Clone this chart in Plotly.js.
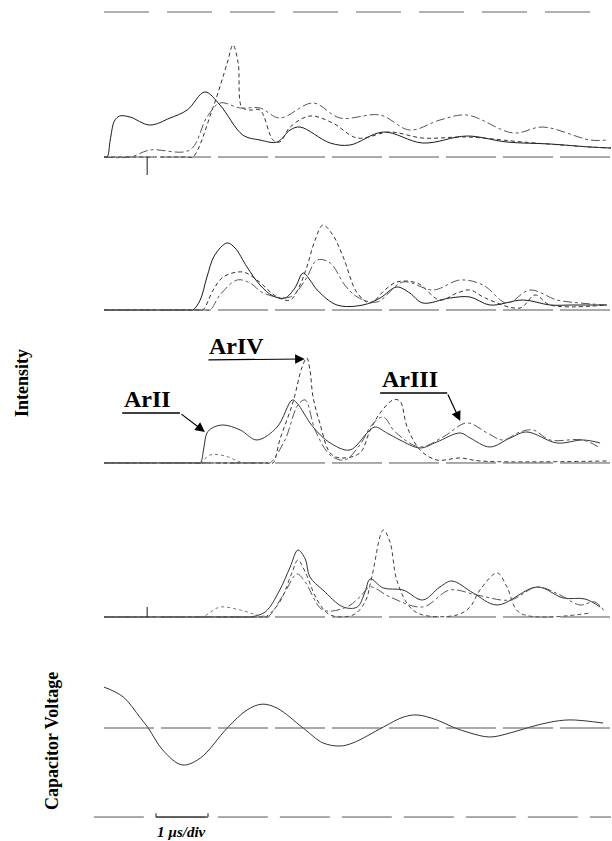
<!DOCTYPE html>
<html>
<head>
<meta charset="utf-8">
<script src="https://cdn.plot.ly/plotly-3.0.1.min.js"></script>
<style>html,body{margin:0;padding:0;background:#fff;}#chart{width:612px;height:841px;}</style>
</head>
<body>
<div id="chart"></div>
<script>
// ---- time (µs) and intensity data, panel 1 (top) ----
const p1SolidT = [0,0.06,0.12,0.2,0.3,0.5,0.88,1.27,1.6,1.94,2.23,2.67,3.0,3.33,3.58,3.77,4.35,4.73,5.37,6.13,6.98,7.75,8.58,9.35,9.75];
const p1SolidV = [0,0,0.17,0.36,0.41,0.40,0.32,0.39,0.47,0.65,0.52,0.22,0.17,0.15,0.27,0.30,0.14,0.12,0.25,0.14,0.21,0.15,0.13,0.10,0.09];
const p1DashT = [0,1.0,1.6,1.71,2.1,2.37,2.48,2.58,2.65,2.8,3.0,3.25,3.38,3.58,3.96,4.4,4.87,5.5,6.13,6.98,8.06,9.35,9.75];
const p1DashV = [0,0,0,0,0.50,0.94,1.12,0.94,0.50,0.47,0.47,0.17,0.15,0.30,0.41,0.34,0.19,0.25,0.19,0.20,0.15,0.10,0.09];
const p1DotT = [0,0.5,0.88,1.65,1.98,2.23,2.62,3.0,3.38,4.02,4.54,5.31,5.88,6.46,6.98,7.87,8.44,9.35,9.67];
const p1DotV = [0,0,0.07,0.07,0.40,0.54,0.49,0.49,0.39,0.54,0.39,0.42,0.27,0.37,0.42,0.24,0.30,0.17,0.17];

// ---- panel 2 ----
const p2SolidT = [0,1.0,1.6,1.71,1.85,1.98,2.13,2.37,2.52,2.75,3.0,3.25,3.48,3.67,3.83,3.96,4.1,4.48,4.98,5.31,5.63,5.88,6.13,6.65,7.04,7.42,8.06,8.58,9.02,9.67];
const p2SolidV = [0,0,0,0,0.10,0.33,0.55,0.67,0.62,0.43,0.25,0.14,0.12,0.22,0.37,0.30,0.20,0.05,0.05,0.12,0.23,0.17,0.07,0.12,0.13,0.05,0.10,0.05,0.05,0.05];
const p2DashT = [0,1.0,1.8,1.9,2.1,2.29,2.67,2.94,3.33,3.58,3.77,3.9,4.06,4.21,4.4,4.6,4.87,5.12,5.4,5.63,6.02,6.46,6.79,7.04,7.33,8.0,8.29,8.58,9.67];
const p2DashV = [0,0,0,0,0.20,0.33,0.38,0.30,0.13,0.10,0.25,0.43,0.70,0.85,0.75,0.53,0.17,0.07,0.20,0.28,0.27,0.10,0.17,0.20,0.12,0.02,0.15,0.05,0.05];
const p2DotT = [0,1.0,1.94,2.04,2.23,2.56,2.81,3.06,3.58,3.87,4.1,4.35,4.63,4.87,5.25,5.75,6.33,6.85,7.29,7.75,8.19,8.71,9.15,9.67];
const p2DotV = [0,0,0,0,0.15,0.30,0.27,0.17,0.13,0.30,0.50,0.47,0.25,0.13,0.08,0.28,0.20,0.30,0.25,0.07,0.20,0.10,0.07,0.05];

// ---- panel 3 ----
const p3SolidT = [0,1.0,1.75,1.85,1.92,1.98,2.08,2.29,2.62,2.94,3.33,3.62,3.71,4.02,4.35,4.73,5.06,5.21,5.44,5.69,6.08,6.4,6.85,7.04,7.42,7.81,8.13,8.71,9.21,9.54];
const p3SolidV = [0,0,0,0,0.15,0.30,0.35,0.38,0.33,0.23,0.36,0.63,0.60,0.36,0.20,0.13,0.30,0.36,0.30,0.23,0.15,0.21,0.30,0.25,0.16,0.25,0.31,0.20,0.23,0.20];
const p3DashT = [0,2.0,3.15,3.25,3.38,3.63,3.81,3.9,3.96,4.02,4.15,4.35,4.54,4.92,5.12,5.31,5.56,5.69,5.83,6.08,6.4,6.85,7.23,9.67];
const p3DashV = [0,0,0,0,0.23,0.60,0.96,1.05,0.93,0.66,0.40,0.10,0.05,0.10,0.33,0.50,0.63,0.62,0.36,0.13,0.03,0.05,0.02,0.02];
const p3DashDotT = [0,2.0,3.09,3.19,3.48,3.73,3.87,4.06,4.35,4.63,4.92,5.15,5.37,5.6,6.08,6.52,6.98,7.37,7.67,8.0,8.25,8.58,9.21,9.54];
const p3DashDotV = [0,0,0,0,0.23,0.58,0.63,0.33,0.08,0.03,0.18,0.38,0.46,0.31,0.16,0.26,0.40,0.30,0.23,0.31,0.33,0.23,0.23,0.15];
const p3DotT = [0,1.0,1.75,1.85,2.04,2.33,2.62,2.8];
const p3DotV = [0,0,0,0,0.08,0.07,0.01,0];

// ---- panel 4 ----
const p4SolidT = [0,1.5,2.7,2.81,3.1,3.38,3.58,3.73,3.87,3.96,4.21,4.6,4.87,5.02,5.12,5.37,5.75,6.13,6.46,6.69,7.1,7.56,8.33,8.83,9.25,9.54];
const p4SolidV = [0,0,0,0,0.05,0.27,0.50,0.67,0.58,0.40,0.27,0.10,0.10,0.25,0.38,0.29,0.27,0.17,0.30,0.36,0.24,0.12,0.30,0.19,0.18,0.10];
const p4DashT = [0,1.5,3.0,3.1,3.38,3.62,3.73,3.87,4.1,4.35,4.79,5.02,5.15,5.37,5.5,5.63,5.88,6.13,6.79,7.04,7.23,7.56,7.75,8.0,9.35];
const p4DashV = [0,0,0,0,0.15,0.45,0.57,0.45,0.17,0.02,0.02,0.15,0.40,0.87,0.75,0.37,0.10,0.02,0.02,0.10,0.27,0.44,0.30,0.04,0.04];
const p4DashDotT = [0,1.5,3.05,3.15,3.48,3.71,3.87,4.21,4.67,4.92,5.12,5.5,6.13,6.65,7.17,7.81,8.33,8.77,9.15,9.44,9.63];
const p4DashDotV = [0,0,0,0,0.25,0.43,0.35,0.07,0.10,0.20,0.30,0.20,0.10,0.27,0.22,0.17,0.30,0.22,0.12,0.15,0.05];
const p4DotT = [0,1.0,1.8,1.9,2.08,2.23,2.62,2.94,3.19];
const p4DotV = [0,0,0,0,0.06,0.10,0.07,0.02,0];

// ---- panel 5: capacitor voltage ----
const capT = [0,0.37,0.69,0.85,1.13,1.5,1.85,2.37,2.75,3.04,3.33,3.83,4.21,4.54,4.79,5.37,5.75,6.02,6.4,6.71,7.04,7.42,7.81,8.19,8.58,8.96,9.6];
const capV = [0.91,0.69,0.24,0,-0.49,-0.82,-0.67,0,0.40,0.53,0.44,0,-0.33,-0.40,-0.33,0.02,0.24,0.29,0.18,0.02,-0.11,-0.20,-0.11,0.02,0.13,0.18,0.11];

// labels
const ionLabels = ['ArII','ArIV','ArIII'];
const yTitles = ['Intensity','Capacitor Voltage'];
const scaleLabel = '1 µs/div';

const ink = '#1a1a1a';
function tr(x, y, ax, dash, color, width){
  return {x:x, y:y, xaxis:'x', yaxis:ax, mode:'lines', type:'scatter',
    line:{color:color||ink, width:width||1, dash:dash, shape:'spline', smoothing:1},
    hoverinfo:'skip', showlegend:false};
}
const data = [
  tr(p1SolidT,p1SolidV,'y','solid'),
  tr(p1DashT,p1DashV,'y','4px,3px','#333'),
  tr(p1DotT,p1DotV,'y','dashdot','#555'),
  tr(p2SolidT,p2SolidV,'y2','solid'),
  tr(p2DashT,p2DashV,'y2','4px,3px','#333'),
  tr(p2DotT,p2DotV,'y2','dashdot','#555'),
  tr(p3SolidT,p3SolidV,'y3','solid','#333'),
  tr(p3DashT,p3DashV,'y3','4px,3px','#333'),
  tr(p3DashDotT,p3DashDotV,'y3','dashdot','#555'),
  tr(p3DotT,p3DotV,'y3','dot','#777'),
  tr(p4SolidT,p4SolidV,'y4','solid','#333'),
  tr(p4DashT,p4DashV,'y4','4px,3px','#444'),
  tr(p4DashDotT,p4DashDotV,'y4','dashdot','#555'),
  tr(p4DotT,p4DotV,'y4','dot','#777'),
  tr(capT,capV,'y5','solid','#333')
];

function yax(domain, range){
  return {domain:domain, range:range, visible:false, fixedrange:true, anchor:'x'};
}
const baseDash = '50px,7px';
function base(yref){
  return {type:'line', xref:'paper', yref:yref, x0:0, x1:1, y0:0, y1:0, line:{color:'#555', width:1, dash:baseDash}};
}
const shapes = [
  base('y'), base('y2'), base('y3'), base('y4'), base('y5'),
  {type:'line', xref:'paper', yref:'paper', x0:0, x1:0.99, y0:0.9857, y1:0.9857, line:{color:'#666', width:1, dash:'45px,18px'}},
  {type:'line', xref:'x', yref:'y', x0:0.83, x1:0.83, y0:0, y1:-0.18, line:{color:ink, width:1}},
  {type:'line', xref:'x', yref:'y4', x0:0.83, x1:0.83, y0:0, y1:0.1, line:{color:ink, width:1}},
  {type:'line', xref:'x', yref:'y2', x0:-0.03, x1:-0.03, y0:1.2, y1:1.07, line:{color:ink, width:1}},
  {type:'line', xref:'paper', yref:'paper', x0:-0.02, x1:1, y0:0.0285, y1:0.0285, line:{color:'#555', width:1, dash:'50px,12px'}},
  {type:'line', xref:'x', yref:'paper', x0:1, x1:2, y0:0.0285, y1:0.0285, line:{color:ink, width:1}},
  {type:'line', xref:'x', yref:'paper', x0:1, x1:1, y0:0.0285, y1:0.033, line:{color:ink, width:1}},
  {type:'line', xref:'x', yref:'paper', x0:2, x1:2, y0:0.0285, y1:0.033, line:{color:ink, width:1}},
  {type:'line', xref:'x', yref:'y3', x0:0.35, x1:1.46, y0:0.50, y1:0.50, line:{color:'#000', width:1.5}},
  {type:'line', xref:'x', yref:'y3', x0:5.31, x1:6.6, y0:0.70, y1:0.70, line:{color:'#000', width:1.5}}
];

const labFont = {family:'Liberation Serif', size:24, color:'#000'};
const annotations = [
  {text:'<b>'+ionLabels[0]+'</b>', x:0.35, y:0.49, xref:'x', yref:'y3', xanchor:'left', yanchor:'bottom', showarrow:false, font:labFont},
  {text:'', x:1.94, y:0.31, xref:'x', yref:'y3', ax:1.46, ay:0.50, axref:'x', ayref:'y3', showarrow:true, arrowhead:2, arrowsize:1.6, arrowwidth:1.2, arrowcolor:'#000'},
  {text:'<b>'+ionLabels[1]+'</b>', x:1.98, y:1.02, xref:'x', yref:'y3', xanchor:'left', yanchor:'bottom', showarrow:false, font:labFont},
  {text:'', x:3.86, y:1.04, xref:'x', yref:'y3', ax:1.98, ay:1.03, axref:'x', ayref:'y3', showarrow:true, arrowhead:2, arrowsize:1.6, arrowwidth:1.2, arrowcolor:'#000'},
  {text:'<b>'+ionLabels[2]+'</b>', x:5.31, y:0.69, xref:'x', yref:'y3', xanchor:'left', yanchor:'bottom', showarrow:false, font:labFont},
  {text:'', x:6.85, y:0.42, xref:'x', yref:'y3', ax:6.6, ay:0.70, axref:'x', ayref:'y3', showarrow:true, arrowhead:2, arrowsize:1.6, arrowwidth:1.2, arrowcolor:'#000'},
  {text:'<b>'+yTitles[0]+'</b>', x:-0.1617, y:0.5446, xref:'paper', yref:'paper', xanchor:'center', yanchor:'middle', textangle:-90, showarrow:false, font:{family:'Liberation Serif', size:18, color:'#000'}},
  {text:'<b>'+yTitles[1]+'</b>', x:-0.1026, y:0.1189, xref:'paper', yref:'paper', xanchor:'center', yanchor:'middle', textangle:-90, showarrow:false, font:{family:'Liberation Serif', size:18, color:'#000'}},
  {text:'<b><i>'+scaleLabel+'</i></b>', x:0.98, y:0.022, xref:'x', yref:'paper', xanchor:'left', yanchor:'top', showarrow:false, font:{family:'Liberation Serif', size:15, color:'#000'}}
];

const layout = {
  width:612, height:841,
  margin:{l:104, r:1, t:0, b:0},
  paper_bgcolor:'#fff', plot_bgcolor:'#fff',
  showlegend:false,
  xaxis:{domain:[0,1], range:[0,9.75], visible:false, fixedrange:true},
  yaxis:yax([0.7895,0.9560],[-0.2,1.2]),
  yaxis2:yax([0.6076,0.7741],[-0.2,1.2]),
  yaxis3:yax([0.4257,0.5922],[-0.2,1.2]),
  yaxis4:yax([0.2426,0.4090],[-0.2,1.2]),
  yaxis5:yax([0.0541,0.2146],[-1.5,1.5]),
  shapes:shapes,
  annotations:annotations
};
Plotly.newPlot('chart', data, layout, {staticPlot:true, displayModeBar:false});
</script>
</body>
</html>
